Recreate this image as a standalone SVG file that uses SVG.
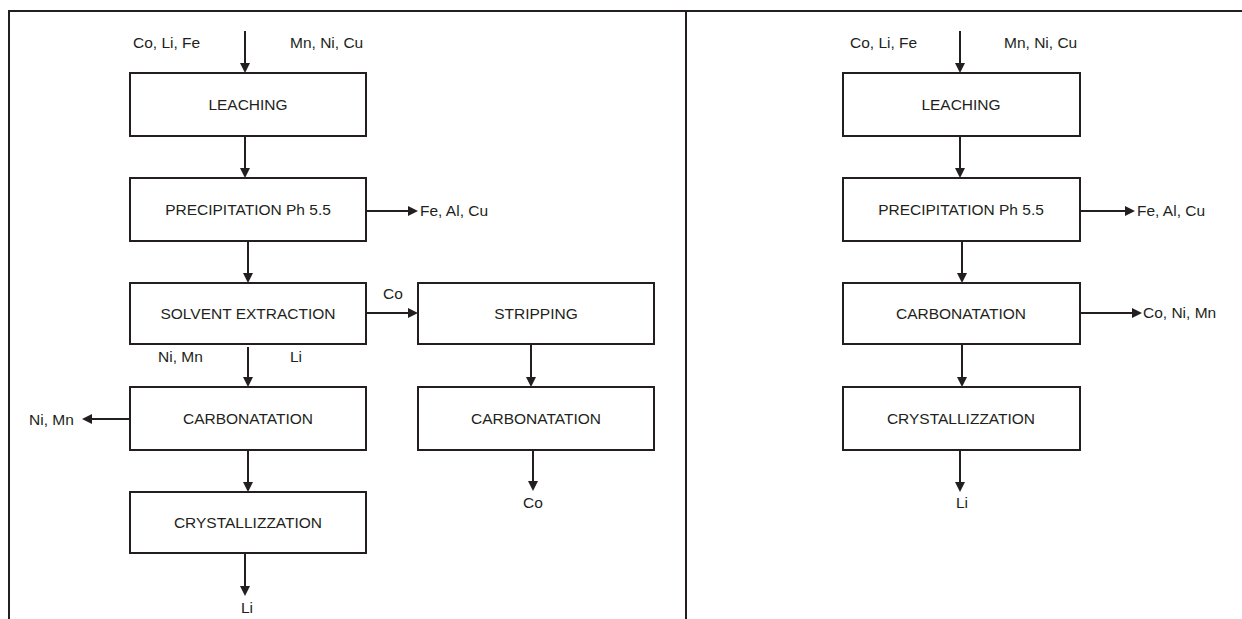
<svg xmlns="http://www.w3.org/2000/svg" width="1242" height="619" viewBox="0 0 1242 619">
<style>
.box{fill:#fff;stroke:#231f20;stroke-width:2}
.frame{stroke:#231f20;stroke-width:2;fill:none}
.c{stroke:#231f20;stroke-width:2;fill:none;marker-end:url(#ah)}
text{font-family:"Liberation Sans",Arial,sans-serif;font-size:15.5px;fill:#231f20}
.m{text-anchor:middle}
</style>
<defs>
<marker id="ah" markerUnits="userSpaceOnUse" markerWidth="10" markerHeight="10" refX="8" refY="5" orient="auto">
<path d="M0,0 L10,5 L0,10 z" fill="#231f20"/>
</marker>
</defs>
<rect width="1242" height="619" fill="#fff"/>
<g id="frame">
<path class="frame" d="M9,619 V11 H1242 M686,11 V619"/>
</g>
<g id="connectors">
<line class="c" x1="245" y1="31" x2="245" y2="71"/>
<line class="c" x1="245" y1="136" x2="245" y2="176"/>
<line class="c" x1="366" y1="211" x2="416" y2="211"/>
<line class="c" x1="248" y1="241" x2="248" y2="281"/>
<line class="c" x1="366" y1="313" x2="416" y2="313"/>
<line class="c" x1="248" y1="347" x2="248" y2="385"/>
<line class="c" x1="130" y1="419" x2="84" y2="419"/>
<line class="c" x1="248" y1="450" x2="248" y2="490"/>
<line class="c" x1="245" y1="553" x2="245" y2="594"/>
<line class="c" x1="531" y1="344" x2="531" y2="385"/>
<line class="c" x1="533" y1="450" x2="533" y2="489"/>
<line class="c" x1="960" y1="31" x2="960" y2="71"/>
<line class="c" x1="960" y1="136" x2="960" y2="176"/>
<line class="c" x1="1080" y1="211" x2="1133" y2="211"/>
<line class="c" x1="962" y1="241" x2="962" y2="281"/>
<line class="c" x1="1080" y1="313" x2="1140" y2="313"/>
<line class="c" x1="962" y1="344" x2="962" y2="385"/>
<line class="c" x1="960" y1="450" x2="960" y2="490"/>
</g>
<g id="labels">
<text x="133" y="48">Co, Li, Fe</text>
<text x="290" y="48">Mn, Ni, Cu</text>
<text x="420" y="216">Fe, Al, Cu</text>
<text x="383" y="299">Co</text>
<text x="158" y="362">Ni, Mn</text>
<text x="290" y="362">Li</text>
<text x="29" y="425">Ni, Mn</text>
<text class="m" x="247" y="613">Li</text>
<text class="m" x="533" y="508">Co</text>
<text x="850" y="48">Co, Li, Fe</text>
<text x="1004" y="48">Mn, Ni, Cu</text>
<text x="1137" y="216">Fe, Al, Cu</text>
<text x="1143" y="318">Co, Ni, Mn</text>
<text class="m" x="962" y="508">Li</text>
</g>
<g id="L-leaching"><rect class="box" x="130" y="73" width="236" height="63"/><text class="m" x="248" y="110">LEACHING</text></g>
<g id="L-precipitation"><rect class="box" x="130" y="178" width="236" height="63"/><text class="m" x="248" y="215">PRECIPITATION Ph 5.5</text></g>
<g id="L-solvent"><rect class="box" x="130" y="283" width="236" height="61"/><text class="m" x="248" y="319">SOLVENT EXTRACTION</text></g>
<g id="L-carbonatation"><rect class="box" x="130" y="387" width="236" height="63"/><text class="m" x="248" y="424">CARBONATATION</text></g>
<g id="L-crystallizzation"><rect class="box" x="130" y="492" width="236" height="61"/><text class="m" x="248" y="528">CRYSTALLIZZATION</text></g>
<g id="L-stripping"><rect class="box" x="418" y="283" width="236" height="61"/><text class="m" x="536" y="319">STRIPPING</text></g>
<g id="L-carbonatation2"><rect class="box" x="418" y="387" width="236" height="63"/><text class="m" x="536" y="424">CARBONATATION</text></g>
<g id="R-leaching"><rect class="box" x="843" y="73" width="237" height="63"/><text class="m" x="961" y="110">LEACHING</text></g>
<g id="R-precipitation"><rect class="box" x="843" y="178" width="237" height="63"/><text class="m" x="961" y="215">PRECIPITATION Ph 5.5</text></g>
<g id="R-carbonatation"><rect class="box" x="843" y="283" width="237" height="61"/><text class="m" x="961" y="319">CARBONATATION</text></g>
<g id="R-crystallizzation"><rect class="box" x="843" y="387" width="237" height="63"/><text class="m" x="961" y="424">CRYSTALLIZZATION</text></g>
</svg>
